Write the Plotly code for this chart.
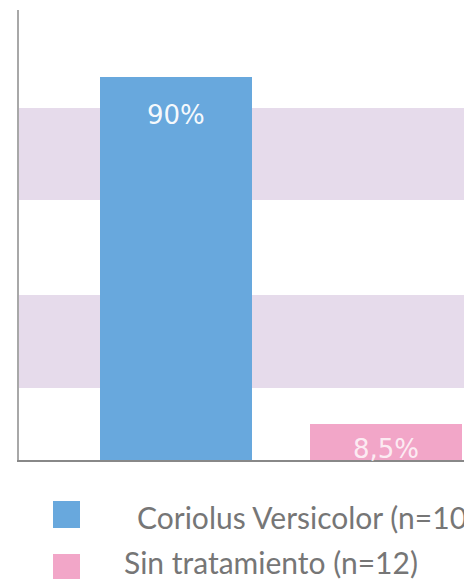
import plotly.graph_objects as go

categories = ["Coriolus Versicolor (n=10)", "Sin tratamiento (n=12)"]
values = [90, 8.5]
value_labels = ["90%", "8,5%"]
colors = ["#68a8dd", "#f2a6c8"]
legend_labels = ["Coriolus Versicolor (n=10)", "Sin tratamiento (n=12)"]

OFF = 8  # page body margin of the browser
W, H = 472 - OFF, 579 - OFF
ML, MR, MT, MB = 19 - OFF, 0, 10 - OFF, 119
plot_w = W - ML - MR
plot_h = H - MT - MB

def px_x(p):
    return (p - OFF - ML) / plot_w

def px_y(p):
    return (H - MB - (p - OFF)) / plot_h

fig = go.Figure()
fig.add_trace(go.Bar(
    x=categories, y=values, marker=dict(color=colors, line=dict(width=0)),
    width=0.724, showlegend=False, hoverinfo="skip",
))

shapes = []
# background bands
for top, bot in [(108, 200), (295, 388)]:
    shapes.append(dict(type="rect", xref="paper", yref="paper", x0=0, x1=1,
                       y0=px_y(bot), y1=px_y(top), fillcolor="#e6dbeb",
                       line=dict(width=0), layer="below"))
# legend squares
for i, c in enumerate(colors):
    top = 501 + i * 53
    shapes.append(dict(type="rect", xref="paper", yref="paper",
                       x0=px_x(53), x1=px_x(80), y0=px_y(top + 27), y1=px_y(top),
                       fillcolor=c, line=dict(width=0)))

annotations = []
# bar labels
shifts = [-38, -25]
lab_colors = ["rgba(255,255,255,0.95)", "rgba(255,255,255,0.8)"]
for cat, v, lab, s, lc in zip(categories, values, value_labels, shifts, lab_colors):
    annotations.append(dict(x=cat, y=v, text=lab, showarrow=False, yanchor="middle",
                            yshift=s, font=dict(family="DejaVu Sans", size=26, color=lc)))
# legend texts
for i, lab in enumerate(legend_labels):
    xl = [135, 122][i]
    yc = [517, 562][i]
    annotations.append(dict(xref="paper", yref="paper", x=px_x(xl), y=px_y(yc),
                            text=lab, showarrow=False, xanchor="left", yanchor="middle",
                            font=dict(family="Lato", size=30, color="#767676")))

fig.update_layout(
    width=W, height=H, margin=dict(l=ML, r=MR, t=MT, b=MB),
    paper_bgcolor="white", plot_bgcolor="white",
    shapes=shapes, annotations=annotations, bargap=0,
    xaxis=dict(range=[-0.748, 1.41], showticklabels=False, showgrid=False, zeroline=False,
               showline=True, linecolor="#888888", linewidth=2, ticks=""),
    yaxis=dict(range=[0, 105.7], showticklabels=False, showgrid=False, zeroline=False,
               showline=True, linecolor="#a8a8a8", linewidth=2, ticks=""),
)

fig.write_html("out.html")
